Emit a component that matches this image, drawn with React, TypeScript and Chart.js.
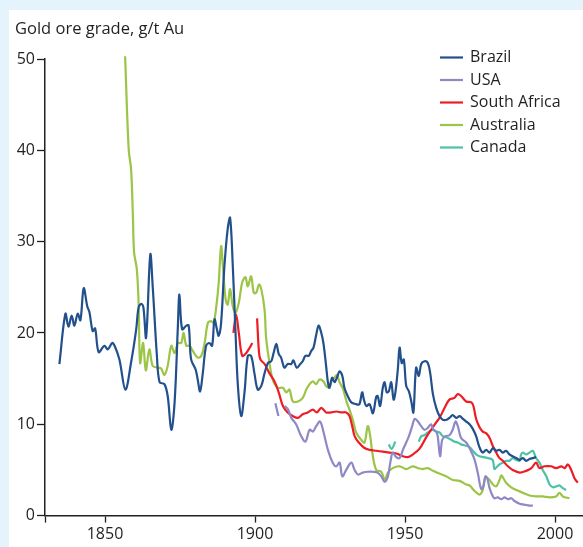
import React, { useEffect, useRef } from "react";
import { Chart, registerables } from "chart.js";

Chart.register(...registerables);

// ---- Data (year, grade g/t Au) ----
const brazilYears = [1834.8,1836.8,1837.8,1838.9,1839.8,1840.9,1841.8,1842.9,1844.1,1844.8,1845.9,1846.7,1847.9,1849.8,1850.9,1852.4,1853.2,1854.8,1856.8,1858.7,1860.4,1861.2,1862.1,1862.8,1863.7,1865.1,1865.9,1867.3,1868.2,1869.8,1870.9,1872.1,1873.2,1874.3,1874.8,1875.7,1877.1,1877.9,1878.7,1880.2,1880.9,1881.7,1882.6,1883.7,1884.8,1885.7,1886.5,1887.3,1887.9,1888.7,1889.8,1890.9,1891.7,1892.6,1893.5,1894.3,1895.4,1896.5,1897.6,1898.7,1899.8,1900.9,1902.1,1903.2,1904.3,1905.4,1906.2,1907.1,1907.9,1908.7,1909.8,1910.9,1912.1,1912.8,1913.9,1915.1,1915.9,1916.8,1917.9,1918.7,1919.5,1920.4,1921.2,1922.1,1922.8,1923.7,1924.3,1924.8,1925.7,1926.5,1927.3,1928.2,1929.1,1929.8,1930.9,1932.1,1933.7,1934.8,1935.7,1936.3,1937.1,1938.2,1939.3,1940.4,1940.9,1941.7,1942.6,1943.2,1943.9,1944.6,1945.4,1946.2,1946.8,1947.6,1948.2,1948.9,1949.6,1950.4,1951.3,1952.1,1952.8,1953.7,1954.6,1955.4,1956.5,1957.6,1958.4,1959.3,1960.4,1961.5,1962.6,1963.9,1964.8,1965.9,1967.1,1968.2,1969.3,1970.4,1971.5,1972.6,1973.7,1974.8,1975.9,1977.1,1978.2,1979.3,1980.4,1981.5,1982.6,1983.7,1984.8,1985.9,1987.1,1988.2,1989.3,1990.4,1991.5,1992.6,1993.7];
const brazilGrades = [16.6,22.1,20.7,21.9,20.8,22.1,21.4,24.9,22.9,22.3,20.2,20.5,17.9,18.6,18.2,18.9,18.6,17.1,13.8,16.8,20.4,22.8,23.2,22.8,19.5,28.6,25.1,17.5,14.6,14.4,13.1,9.4,12.4,20.8,24.2,20.4,20.8,20.8,17.1,16.0,14.9,13.6,15.6,18.6,18.9,18.6,21.5,20.4,19.7,21.1,27.3,31.4,32.6,27.3,20.1,14.2,10.9,13.5,17.5,17.5,15.6,13.8,14.2,15.6,16.7,16.9,17.8,18.8,17.7,17.3,16.2,16.6,16.6,17.0,16.2,16.6,16.9,17.5,17.5,18.0,18.4,19.8,20.8,20.0,18.9,16.4,14.6,14.0,15.1,14.6,15.1,15.8,15.3,14.0,13.1,12.4,12.2,12.2,13.5,12.7,12.0,12.2,11.2,13.0,13.1,12.0,14.0,14.6,13.5,13.6,14.6,12.7,13.5,16.0,18.4,16.7,17.1,14.2,13.6,12.5,11.3,16.2,15.3,16.6,16.9,16.7,15.6,13.3,11.8,10.9,10.5,10.5,10.7,11.0,10.7,10.9,10.6,10.3,10.0,9.5,8.7,7.5,6.9,7.2,6.9,7.4,7.1,7.2,6.9,7.1,6.7,6.5,6.3,6.1,6.3,6.0,6.2,6.3,6.4];

const usaYearsA = [1906.8,1907.8];
const usaGradesA = [12.3,10.9];
const usaYearsB = [1909.8,1910.9,1912.1,1913.7,1915.4,1916.8,1918.2,1919.3,1920.4,1921.7,1922.8,1924.3,1925.9,1927.1,1928.2,1929.1,1930.4,1932.1,1933.2,1934.3,1935.9,1937.6,1939.3,1940.9,1942.1,1943.2,1944.3,1945.1,1945.9,1947.1,1948.2,1949.3,1950.4,1951.3,1952.4,1953.2,1954.3,1955.4,1956.5,1957.6,1958.7,1959.5,1960.4,1960.9,1961.7,1962.4,1963.5,1964.8,1965.9,1966.8,1967.6,1968.7,1970.4,1971.5,1973.2,1974.3,1975.4,1976.2,1976.8,1977.4,1978.2,1979.0,1979.8,1980.9,1982.1,1983.2,1984.3,1985.4,1986.5,1988.2,1989.8,1991.5,1992.6];
const usaGradesB = [12.0,11.7,10.7,10.0,8.7,8.1,9.4,9.2,9.8,10.3,9.2,7.2,5.8,5.4,5.8,4.3,5.0,5.8,5.0,4.5,4.7,4.8,4.8,4.7,4.3,3.7,4.3,5.8,6.9,6.4,6.3,7.2,8.0,8.7,9.8,10.6,10.3,9.8,9.4,9.6,10.0,9.4,9.2,8.7,6.5,8.3,8.7,8.8,9.4,10.3,9.8,8.5,8.0,7.4,6.1,4.6,2.9,3.3,4.3,4.1,3.0,2.3,1.9,2.0,1.8,2.0,1.8,1.9,1.6,1.3,1.2,1.1,1.1];

const saYearsA = [1892.8,1893.7,1894.6,1895.7,1896.8,1897.9,1899.1];
const saGradesA = [20.0,22.0,20.0,17.5,17.7,18.2,18.9];
const saYearsB = [1900.7,1901.3,1901.8,1903.2,1904.8,1906.5,1907.9,1909.3,1910.9,1912.6,1914.3,1915.9,1917.6,1919.3,1920.6,1922.1,1923.7,1925.4,1927.1,1928.7,1930.4,1931.5,1932.4,1933.2,1934.6,1936.5,1938.2,1940.4,1942.6,1944.8,1947.1,1949.3,1950.9,1952.6,1954.8,1957.1,1958.7,1960.4,1961.5,1963.2,1964.8,1966.5,1967.6,1968.7,1970.4,1972.1,1972.8,1973.7,1974.8,1975.9,1977.1,1978.2,1979.3,1980.4,1981.5,1982.6,1984.3,1985.9,1988.2,1990.4,1992.1,1993.7,1994.8,1996.5,1998.7,2000.4,2002.1,2003.2,2004.3,2005.4,2006.5,2007.6];
const saGradesB = [21.6,18.0,17.1,16.6,15.6,14.7,13.5,12.0,11.3,10.9,10.7,11.1,11.3,11.6,11.3,11.8,11.3,11.3,11.4,11.3,11.3,10.9,9.8,8.7,8.0,7.4,7.2,7.1,7.0,6.9,6.8,6.5,6.4,6.7,7.3,8.6,9.4,10.2,10.7,11.8,12.7,12.9,13.3,13.1,12.5,12.4,12.0,10.6,9.7,9.2,9.0,8.5,7.6,6.9,6.3,6.0,5.4,5.0,4.7,4.9,5.2,5.8,5.2,5.4,5.4,5.2,5.4,5.2,5.6,5.0,4.1,3.6];

const ausYears = [1856.7,1857.9,1858.7,1859.3,1859.7,1860.6,1861.2,1861.7,1862.7,1863.6,1864.8,1865.9,1867.6,1868.7,1869.8,1870.9,1872.1,1873.2,1874.3,1875.4,1876.2,1877.1,1878.2,1879.3,1880.9,1882.1,1883.2,1884.3,1885.4,1886.2,1887.1,1887.9,1888.7,1889.3,1890.2,1890.9,1891.7,1892.6,1893.5,1894.6,1895.7,1896.8,1897.6,1898.7,1899.6,1900.4,1901.3,1902.1,1903.2,1903.7,1904.8,1905.9,1907.6,1909.3,1910.4,1911.5,1912.6,1914.3,1915.9,1917.1,1918.2,1919.3,1920.4,1921.5,1922.8,1923.7,1924.8,1925.7,1926.5,1927.3,1928.2,1929.3,1930.6,1931.5,1932.6,1933.7,1935.4,1936.5,1937.6,1938.4,1939.1,1940.4,1942.1,1943.2,1944.3,1945.9,1948.2,1950.4,1952.6,1954.3,1955.9,1957.6,1959.3,1961.5,1963.7,1965.9,1968.2,1970.4,1971.5,1973.2,1974.8,1975.9,1976.5,1977.1,1978.2,1979.3,1980.4,1981.5,1982.1,1982.6,1983.7,1985.4,1987.1,1989.3,1991.5,1993.7,1995.9,1998.2,2000.4,2001.5,2002.6,2004.8];
const ausGrades = [50.3,40.1,37.9,32.8,28.8,27.0,23.3,16.7,18.9,15.9,18.2,16.4,16.2,16.1,15.4,16.4,18.6,17.8,18.9,18.9,20.0,18.6,18.6,18.0,17.3,17.5,18.9,21.1,21.3,21.1,22.9,25.5,29.5,27.3,23.7,23.1,24.8,22.9,22.2,23.3,25.5,26.1,25.1,26.2,24.4,24.4,25.3,24.8,22.5,19.5,16.8,14.9,14.0,14.0,13.5,13.8,12.5,12.5,12.9,13.8,14.4,14.7,14.4,14.9,14.7,14.2,14.0,14.9,15.1,15.4,14.6,13.9,12.4,11.6,10.5,9.1,8.3,8.0,9.8,8.7,6.9,5.0,4.8,3.9,4.7,5.2,5.4,5.1,5.4,5.2,5.1,5.2,4.9,4.6,4.3,3.9,3.8,3.4,3.3,2.7,2.3,2.8,3.9,4.2,3.9,3.4,3.2,3.9,4.4,4.2,3.6,3.1,2.8,2.5,2.2,2.1,2.1,2.0,2.1,2.5,2.1,1.9];

const canYearsA = [1944.6,1945.5,1946.8];
const canGradesA = [7.8,7.3,8.1];
const canYearsB = [1954.6,1955.4,1956.5,1957.6,1959.3,1960.4,1961.5,1962.6,1964.3,1965.4,1966.5,1967.6,1968.7,1969.8,1971.5,1972.6,1973.7,1974.8,1976.2,1977.5,1979.2,1979.8,1980.5,1981.5,1982.6,1983.8,1984.8,1985.9,1987.1,1988.2,1988.7,1989.3,1990.4,1991.5,1992.6,1993.2,1993.7,1994.8,1995.9,1997.1,1998.2,1999.3,2000.4,2001.5,2002.6,2003.7];
const canGradesB = [8.1,8.7,8.8,9.1,9.4,9.2,9.1,8.7,8.5,8.3,8.1,8.0,7.8,7.7,7.5,7.1,6.7,6.5,6.4,6.3,6.1,5.1,5.3,5.6,5.8,6.0,6.0,6.3,6.1,6.0,6.7,6.9,6.7,6.9,7.1,6.7,6.3,5.8,5.0,4.3,3.4,3.1,3.2,3.3,3.0,2.8];

const xTickYears = [1830, 1850, 1900, 1950, 2000];
const yTicks = [0, 10, 20, 30, 40, 50];

const seriesNames = ["Brazil", "USA", "South Africa", "Australia", "Canada"];
const seriesColors = ["#22508c", "#8e88c7", "#ee1c25", "#9cc446", "#4ec2a7"];

const TITLE = "Gold ore grade, g/t Au";
const FONT = "'Open Sans', 'Noto Sans', sans-serif";
const INK = "#231f20";

const pts = (xs: number[], ys: number[]) => xs.map((x, i) => ({ x, y: ys[i] }));

export default function App() {
  const ref = useRef<HTMLCanvasElement | null>(null);

  useEffect(() => {
    if (!ref.current) return;
    const mk = (xs: number[], ys: number[], colorIdx: number) => ({
      data: pts(xs, ys),
      borderColor: seriesColors[colorIdx],
      backgroundColor: seriesColors[colorIdx],
      borderWidth: 2.2,
      pointRadius: 0,
      tension: 0.35,
      fill: false,
      clip: false as any,
    });

    const framePlugin = {
      id: "frame",
      beforeDraw(chart: any) {
        const c = chart.ctx;
        c.save();
        c.fillStyle = "#e5f4fc";
        c.fillRect(0, 0, chart.width, chart.height);
        c.fillStyle = "#ffffff";
        c.fillRect(9, 10, chart.width - 9, chart.height - 10);
        c.restore();
      },
      afterDraw(chart: any) {
        const c = chart.ctx;
        c.save();
        c.fillStyle = INK;
        c.font = `16.5px ${FONT}`;
        c.textBaseline = "middle";
        c.textAlign = "left";
        c.fillText(TITLE, 15, 29);
        c.font = `16px ${FONT}`;
        seriesNames.forEach((name, i) => {
          const y = 57.5 + i * 22.5;
          c.strokeStyle = seriesColors[i];
          c.lineWidth = 2.2;
          c.beginPath();
          c.moveTo(440, y);
          c.lineTo(463, y);
          c.stroke();
          c.fillStyle = INK;
          c.fillText(name, 470, y);
        });
        c.restore();
      },
    };

    const chart = new Chart(ref.current, {
      type: "line",
      data: {
        datasets: [
          mk(brazilYears, brazilGrades, 0),
          mk(usaYearsA, usaGradesA, 1),
          mk(usaYearsB, usaGradesB, 1),
          mk(saYearsA, saGradesA, 2),
          mk(saYearsB, saGradesB, 2),
          mk(ausYears, ausGrades, 3),
          mk(canYearsA, canGradesA, 4),
          mk(canYearsB, canGradesB, 4),
        ] as any,
      },
      options: {
        animation: false,
        responsive: false,
        maintainAspectRatio: false,
        layout: { padding: { top: 59, left: 0, right: 0, bottom: 0 } },
        plugins: { legend: { display: false }, tooltip: { enabled: false }, title: { display: false } },
        scales: {
          x: {
            type: "linear",
            min: 1830,
            max: 2009.33,
            afterFit(scale: any) { scale.height = 31.4; },
            afterBuildTicks(scale: any) { scale.ticks = xTickYears.map((value) => ({ value })); },
            grid: { display: true, drawOnChartArea: false, drawTicks: true, tickLength: 7, tickColor: INK, tickWidth: 1.3 },
            border: { display: true, color: INK, width: 1.5 },
            ticks: {
              autoSkip: false,
              maxRotation: 0,
              padding: 2,
              color: INK,
              font: { family: FONT, size: 16 },
              callback: (v: any) => (v === 1830 ? "" : String(v)),
            },
          },
          y: {
            type: "linear",
            min: 0,
            max: 50,
            afterFit(scale: any) { scale.width = 45; },
            afterBuildTicks(scale: any) { scale.ticks = yTicks.map((value) => ({ value })); },
            grid: { display: true, drawOnChartArea: false, drawTicks: true, tickLength: 8, tickColor: INK, tickWidth: 1.3 },
            border: { display: true, color: INK, width: 1.5 },
            ticks: { padding: 2, color: INK, font: { family: FONT, size: 16 } },
          },
        },
      } as any,
      plugins: [framePlugin],
    });
    return () => chart.destroy();
  }, []);

  return (
    <div style={{ position: "fixed", left: 0, top: 0, width: 583, height: 547, overflow: "hidden" }}>
      <canvas ref={ref} width={583} height={547} style={{ display: "block", width: 583, height: 547 }} />
    </div>
  );
}
